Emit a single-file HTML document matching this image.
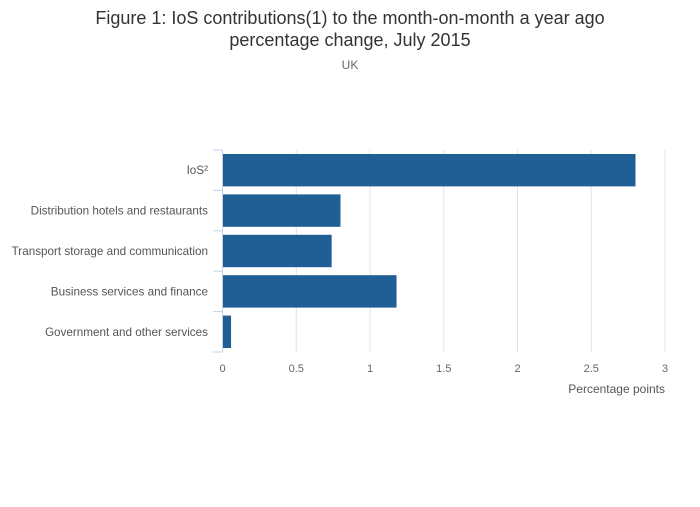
<!DOCTYPE html>
<html><head><meta charset="utf-8"><style>
body{margin:0;background:#fff;font-family:"Liberation Sans",sans-serif}
</style></head><body>
<svg width="700" height="502" xmlns="http://www.w3.org/2000/svg">
<text x="350" y="24" text-anchor="middle" font-size="18" fill="#333">Figure 1: IoS contributions(1) to the month-on-month a year ago</text>
<text x="350" y="46" text-anchor="middle" font-size="18" fill="#333">percentage change, July 2015</text>
<text x="350" y="69" text-anchor="middle" font-size="12" fill="#666">UK</text>
<g id="grid"></g><g id="bars"></g><g id="axes"></g>
<text x="665" y="393" text-anchor="end" font-size="12" fill="#555">Percentage points</text>
</svg>
<script>
const categories=["IoS²","Distribution hotels and restaurants","Transport storage and communication","Business services and finance","Government and other services"];
const values=[2.8,0.8,0.74,1.18,0.058];
const ticks=[0,0.5,1,1.5,2,2.5,3];
const tickLabels=["0","0.5","1","1.5","2","2.5","3"];
const NS="http://www.w3.org/2000/svg";
const x0=222.5,x1=665,y0=150,y1=352,xmax=3;
const xs=v=>x0+(v/xmax)*(x1-x0);
const band=(y1-y0)/categories.length;
function mk(t,a,p){const e=document.createElementNS(NS,t);for(const k in a)e.setAttribute(k,a[k]);p.appendChild(e);return e;}
const grid=document.getElementById('grid'),bars=document.getElementById('bars'),axes=document.getElementById('axes');
ticks.forEach((t,i)=>{
 if(t>0){const g=mk('line',{x1:xs(t),x2:xs(t),y1:y0,y2:y1,stroke:'#e4e4e4','stroke-width':1},grid);
 
 }
 const l=mk('text',{x:xs(t),y:372,'text-anchor':'middle','font-size':11,fill:'#666'},axes);l.textContent=tickLabels[i];
 
 
});
categories.forEach((c,i)=>{
 const top=y0+i*band;
 const r=mk('rect',{x:x0,y:top+4,width:xs(values[i])-x0,height:band-8,fill:'#1f5f95'},bars);
 
 
 const l=mk('text',{x:208,y:top+band/2+4,'text-anchor':'end','font-size':11.7,fill:'#555'},axes);l.textContent=c;
 
 
});
for(let i=0;i<=categories.length;i++){
 const y=y0+i*band;
 const t=mk('line',{x1:213,x2:x0,y1:y,y2:y,stroke:'#c8d0e4','stroke-width':1},axes);
 
 
}
const ax=mk('line',{x1:x0,x2:x0,y1:y0,y2:y1,stroke:'#c8d0e4','stroke-width':1},axes);


</script>
</body></html>
